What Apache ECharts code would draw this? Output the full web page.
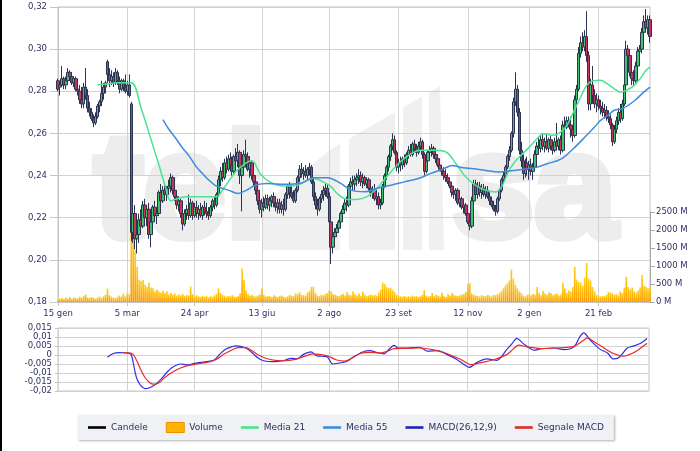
<!DOCTYPE html>
<html><head><meta charset="utf-8">
<script src="https://cdn.jsdelivr.net/npm/echarts@6/dist/echarts.min.js"></script>
<style>html,body{margin:0;padding:0;background:#fff}#c{width:700px;height:451px}</style>
</head><body><div id="c"></div>
<script>
// x-axis tick labels and the trading-day index where each one sits
const dayLabels = ['15 gen','5 mar','24 apr','13 giu','2 ago','23 set','12 nov','2 gen','21 feb'];
const labelDays = [0,35,69,103,137,172,207,238,273];

const opens = [
.285,.282,.283,.286,.283,.285,.289,.287,.284,.286,
.281,.280,.276,.274,.282,.278,.272,.270,.267,.265,
.268,.273,.275,.279,.282,.294,.288,.285,.287,.284,
.289,.285,.281,.285,.282,.280,.283,.274,.213,.222,
.210,.212,.219,.216,.226,.220,.224,.212,.218,.225,
.221,.222,.232,.228,.233,.231,.234,.235,.239,.233,
.230,.226,.228,.222,.217,.222,.224,.221,.227,.221,
.225,.222,.224,.221,.225,.223,.222,.221,.225,.228,
.226,.231,.238,.242,.239,.246,.243,.248,.245,.242,
.249,.247,.251,.240,.244,.250,.249,.243,.246,.240,
.237,.233,.228,.224,.227,.225,.229,.226,.228,.230,
.227,.225,.227,.224,.226,.224,.231,.235,.232,.230,
.228,.233,.239,.243,.241,.242,.240,.243,.244,.237,
.230,.226,.224,.229,.231,.233,.234,.230,.218,.206,
.211,.213,.215,.218,.222,.224,.227,.226,.235,.237,
.236,.238,.239,.240,.237,.239,.236,.238,.234,.232,
.233,.229,.230,.226,.227,.235,.240,.244,.249,.254,
.257,.251,.244,.246,.245,.248,.246,.250,.252,.250,
.255,.253,.251,.254,.256,.250,.242,.247,.251,.252,
.253,.250,.248,.245,.243,.242,.240,.239,.237,.235,
.232,.231,.233,.227,.229,.225,.226,.222,.218,.216,
.228,.236,.231,.235,.232,.234,.231,.233,.230,.228,
.226,.224,.223,.229,.233,.238,.240,.244,.249,.252,
.260,.275,.281,.270,.252,.247,.241,.246,.243,.245,
.242,.244,.250,.254,.253,.257,.254,.256,.253,.257,
.254,.252,.256,.254,.257,.252,.264,.263,.266,.264,
.262,.259,.276,.281,.298,.303,.301,.306,.297,.274,
.283,.278,.274,.276,.273,.272,.270,.271,.268,.267,
.264,.256,.262,.266,.270,.267,.274,.283,.300,.297,
.289,.286,.285,.292,.299,.300,.308,.313,.310,.314];

const highs = [
.286,.284,.292,.287,.287,.291,.290,.289,.287,.287,
.285,.283,.282,.284,.291,.281,.275,.272,.269,.270,
.274,.276,.285,.284,.285,.295,.291,.290,.289,.291,
.290,.287,.286,.286,.288,.285,.288,.275,.228,.226,
.215,.222,.224,.228,.229,.226,.227,.222,.226,.228,
.224,.233,.236,.235,.237,.235,.238,.241,.240,.237,
.233,.230,.229,.226,.224,.226,.231,.229,.228,.227,
.228,.226,.227,.226,.228,.227,.225,.226,.229,.230,
.232,.240,.244,.246,.248,.249,.250,.251,.249,.250,
.253,.255,.252,.246,.252,.257,.251,.248,.247,.244,
.240,.235,.231,.229,.230,.231,.231,.230,.231,.232,
.230,.229,.229,.228,.229,.232,.236,.237,.236,.233,
.234,.240,.245,.246,.244,.245,.244,.246,.245,.239,
.232,.229,.230,.233,.235,.236,.236,.232,.220,.213,
.215,.217,.219,.223,.226,.229,.230,.236,.239,.240,
.240,.241,.243,.242,.241,.240,.239,.239,.237,.235,
.236,.233,.232,.229,.236,.241,.245,.250,.255,.260,
.259,.252,.248,.249,.249,.250,.251,.254,.255,.256,
.257,.255,.256,.258,.257,.251,.249,.252,.254,.255,
.254,.252,.250,.248,.245,.244,.243,.241,.239,.236,
.234,.234,.234,.231,.230,.228,.227,.224,.220,.230,
.238,.238,.237,.237,.236,.236,.235,.235,.232,.230,
.228,.226,.230,.234,.239,.242,.245,.250,.254,.261,
.277,.289,.283,.272,.256,.250,.248,.249,.247,.248,
.246,.252,.256,.258,.259,.260,.258,.260,.258,.259,
.256,.258,.265,.258,.259,.266,.268,.268,.268,.268,
.264,.278,.283,.301,.306,.308,.309,.318,.299,.286,
.292,.281,.279,.278,.276,.275,.274,.273,.271,.269,
.265,.264,.268,.272,.274,.276,.285,.304,.302,.299,
.292,.290,.294,.301,.302,.310,.316,.319,.316,.316];

const lows = [
.280,.278,.282,.281,.281,.284,.285,.283,.282,.280,
.278,.274,.272,.272,.276,.270,.268,.266,.263,.264,
.267,.270,.273,.276,.279,.284,.282,.283,.282,.283,
.283,.279,.280,.280,.279,.278,.277,.209,.208,.205,
.203,.208,.214,.215,.218,.216,.210,.206,.216,.219,
.217,.221,.226,.227,.229,.228,.231,.232,.231,.228,
.224,.223,.220,.214,.216,.219,.219,.220,.219,.220,
.220,.219,.220,.219,.221,.220,.219,.220,.223,.224,
.225,.230,.235,.237,.238,.241,.242,.243,.240,.241,
.245,.244,.236,.223,.242,.246,.242,.239,.238,.235,
.231,.226,.222,.220,.223,.224,.224,.223,.225,.225,
.223,.222,.222,.222,.221,.223,.229,.229,.229,.227,
.227,.232,.237,.239,.238,.239,.238,.240,.236,.228,
.224,.221,.223,.227,.228,.230,.229,.215,.198,.203,
.209,.211,.213,.216,.220,.222,.223,.225,.233,.233,
.233,.235,.236,.235,.234,.235,.234,.233,.230,.229,
.228,.226,.224,.224,.226,.234,.238,.242,.247,.252,
.250,.242,.241,.242,.243,.244,.245,.248,.249,.249,
.251,.249,.250,.252,.248,.240,.241,.245,.248,.249,
.248,.246,.244,.242,.240,.238,.237,.236,.234,.230,
.229,.228,.226,.225,.224,.222,.221,.217,.214,.215,
.227,.229,.229,.230,.229,.230,.229,.229,.226,.225,
.223,.221,.222,.228,.232,.236,.239,.243,.247,.251,
.258,.273,.268,.250,.244,.238,.239,.240,.238,.240,
.238,.243,.248,.251,.251,.252,.251,.252,.251,.252,
.250,.251,.253,.252,.250,.251,.261,.262,.263,.258,
.256,.258,.274,.280,.296,.299,.299,.294,.271,.271,
.274,.272,.270,.271,.269,.268,.267,.266,.265,.262,
.254,.255,.260,.264,.265,.266,.273,.282,.295,.287,
.283,.283,.284,.290,.296,.298,.305,.308,.307,.303];

const closes = [
.281,.283,.286,.283,.285,.289,.287,.284,.286,.281,
.280,.276,.274,.282,.278,.272,.270,.267,.265,.268,
.273,.275,.279,.282,.284,.288,.285,.287,.284,.289,
.285,.281,.285,.282,.280,.283,.278,.213,.222,.210,
.212,.219,.216,.226,.220,.224,.212,.218,.225,.221,
.222,.232,.228,.233,.231,.234,.235,.239,.233,.230,
.226,.228,.222,.217,.222,.224,.221,.227,.221,.225,
.222,.224,.221,.225,.223,.222,.221,.225,.228,.226,
.231,.238,.242,.239,.246,.243,.248,.245,.242,.249,
.247,.251,.240,.244,.250,.249,.243,.246,.240,.237,
.233,.228,.224,.227,.225,.229,.226,.228,.230,.227,
.225,.227,.224,.226,.224,.231,.235,.232,.230,.228,
.233,.239,.243,.241,.242,.240,.243,.244,.237,.230,
.226,.224,.229,.231,.233,.234,.230,.218,.206,.211,
.213,.215,.218,.222,.224,.227,.226,.235,.237,.236,
.238,.239,.240,.237,.239,.236,.238,.234,.232,.233,
.229,.230,.226,.227,.235,.240,.244,.249,.254,.257,
.251,.244,.246,.245,.248,.246,.250,.252,.250,.255,
.253,.251,.254,.256,.250,.242,.247,.251,.252,.253,
.250,.248,.245,.243,.242,.240,.239,.237,.235,.232,
.231,.233,.227,.229,.225,.226,.222,.218,.216,.228,
.236,.231,.235,.232,.234,.231,.233,.230,.228,.226,
.224,.223,.229,.233,.238,.240,.244,.249,.252,.260,
.275,.281,.270,.252,.247,.241,.246,.243,.245,.242,
.244,.250,.254,.253,.257,.254,.256,.253,.257,.254,
.252,.256,.254,.257,.252,.264,.263,.266,.264,.262,
.259,.276,.281,.298,.303,.301,.306,.297,.274,.283,
.278,.274,.276,.273,.272,.270,.271,.268,.267,.264,
.256,.262,.266,.270,.267,.274,.283,.300,.297,.289,
.286,.285,.292,.299,.300,.308,.313,.310,.314,.306];

// volume, millions
const volumes = [
60,90,110,80,120,100,140,90,130,110,
100,150,120,170,210,130,110,140,120,90,
130,150,110,160,200,380,190,150,120,110,
140,180,150,230,160,250,220,2100,2000,1440,
980,620,580,610,480,420,540,400,380,300,
350,290,260,320,250,300,210,260,200,240,
180,210,190,230,170,200,180,430,220,150,
190,160,140,180,150,170,130,160,150,180,
220,380,260,200,180,150,170,160,190,150,
140,170,240,930,610,320,220,180,200,160,
150,180,210,380,200,150,170,160,140,190,
160,140,170,180,150,130,160,200,180,160,
240,220,280,200,190,170,260,300,420,430,
250,180,160,200,180,220,250,320,300,220,
200,180,160,200,230,180,280,210,190,300,
220,180,240,170,290,200,160,190,210,180,
200,170,260,350,540,500,420,380,400,330,
280,200,180,160,150,170,140,160,150,180,
150,170,140,160,200,330,180,150,170,250,
160,200,180,150,260,170,140,220,180,250,
200,180,170,190,210,230,280,500,520,240,
200,180,170,150,190,170,160,200,180,150,
200,190,220,250,300,380,460,520,600,900,
650,480,380,300,250,180,150,200,220,190,
230,200,420,260,190,310,240,200,270,250,
190,220,240,180,210,540,380,250,320,290,
420,980,620,560,540,450,680,1080,650,600,
420,300,200,180,150,170,160,200,280,260,
240,200,220,180,300,250,400,700,420,350,
400,300,260,320,400,750,450,420,380,400];

// moving averages: [day index, value]
const ma21 = [[20,.283],[25,.2835],[30,.284],[37,.284],[42,.272],[47,.257],[51,.245],[54,.2355],[57,.228],[60,.229],[65,.230],[70,.230],[75,.230],[80,.230],[83,.233],[86,.237],[90,.242],[95,.246],[98,.247],[102,.241],[107,.237],[114,.235],[121,.2354],[126,.2378],[129,.2386],[134,.237],[138,.2346],[141,.2315],[146,.2287],[151,.2287],[156,.230],[161,.2339],[166,.2394],[172,.2457],[177,.2496],[183,.252],[190,.252],[196,.2512],[201,.2456],[206,.2393],[211,.2353],[216,.233],[221,.2322],[224,.2346],[227,.2409],[230,.2456],[233,.2488],[238,.2535],[242,.2575],[245,.2599],[250,.2591],[254,.2607],[257,.2638],[260,.2694],[264,.2773],[267,.2828],[270,.2849],[274,.2852],[277,.2839],[281,.2812],[284,.2797],[287,.2804],[291,.2828],[294,.286],[297,.290],[299,.2915]];
const ma55 = [[53,.2666],[56,.262],[59,.2583],[63,.253],[66,.2496],[70,.244],[73,.241],[76,.238],[80,.235],[86,.2331],[91,.2315],[95,.233],[100,.2355],[106,.2362],[114,.2359],[123,.2365],[129,.239],[136,.239],[143,.2362],[148,.2331],[155,.2323],[161,.2339],[168,.2354],[175,.237],[182,.2386],[188,.2409],[195,.2433],[199,.2448],[203,.244],[210,.2432],[216,.2424],[223,.2417],[230,.2424],[237,.2432],[242,.244],[247,.2456],[254,.2478],[260,.2525],[267,.2591],[271,.263],[274,.2662],[278,.2688],[281,.271],[285,.2717],[291,.2754],[296,.2797],[299,.282]];
const macd = [[25,-.0013],[28,.0008],[31,.0013],[35,.0011],[37,.0002],[38,-.004],[39,-.0095],[40,-.0135],[42,-.0172],[44,-.0187],[46,-.0183],[49,-.0166],[52,-.0135],[55,-.0097],[58,-.0068],[62,-.005],[65,-.0055],[69,-.0047],[72,-.0041],[75,-.0037],[79,-.0028],[82,.0006],[85,.0033],[88,.0046],[90,.0051],[93,.0047],[96,.0032],[99,.0005],[101,-.0015],[104,-.0032],[109,-.0037],[114,-.0032],[118,-.0019],[121,-.0022],[124,.0002],[128,.0017],[131,-.0005],[136,-.0009],[139,-.005],[142,-.0045],[146,-.0036],[150,-.0007],[155,.0021],[158,.0024],[161,.0015],[165,.0006],[167,.0026],[170,.0054],[172,.0039],[177,.0039],[183,.0043],[187,.0021],[192,.0024],[197,.0002],[202,-.0026],[205,-.005],[208,-.0069],[212,-.0041],[217,-.0022],[222,-.003],[227,.003],[230,.0067],[232,.0092],[236,.0058],[241,.0026],[244,.0034],[251,.0039],[256,.003],[261,.0045],[264,.0101],[266,.0123],[269,.0086],[274,.0034],[278,.0011],[281,-.0022],[284,-.0012],[288,.0039],[291,.0049],[295,.0067],[298,.0092]];
const signal = [[33,.0013],[36,.0012],[38,.0003],[40,-.0035],[42,-.0085],[44,-.0125],[46,-.015],[48,-.0162],[51,-.0155],[54,-.0125],[58,-.0095],[62,-.0072],[66,-.0058],[71,-.0048],[76,-.004],[80,-.0025],[84,.0005],[88,.0028],[91,.0041],[95,.0041],[98,.0025],[101,.0003],[105,-.0018],[110,-.003],[115,-.0032],[120,-.0024],[125,-.0006],[129,.0006],[133,.0002],[137,-.0008],[141,-.0028],[145,-.0034],[149,-.0015],[153,.0009],[158,.0015],[163,.0011],[167,.0022],[170,.0035],[177,.0037],[183,.0039],[190,.0028],[197,.0007],[204,-.0026],[209,-.0054],[214,-.0042],[220,-.0028],[227,.0002],[230,.003],[233,.0055],[237,.0046],[244,.0036],[252,.0039],[261,.0048],[265,.0075],[268,.0095],[271,.0075],[275,.0048],[281,.0008],[286,-.0006],[291,.0012],[295,.004],[298,.0065]];

const categories = opens.map((_, i) => 'd' + i);
const candles = opens.map((o, i) => [o, closes[i], lows[i], highs[i]]);

const isLabelDay = (i) => labelDays.indexOf(i) >= 0;
const axisFont = {color:'#2e2e66', fontSize:8.5, fontFamily:'DejaVu Sans'};
const gridLine = {color:'#d2d2d2', width:1};
const linePath = 'path://M0,0H18V2.6H0Z';
const wm = '#ededed';
const wmText = {fontSize:148, fontWeight:'bold', fontFamily:'Liberation Sans', fill:wm, stroke:wm, lineWidth:8, verticalAlign:'middle'};

const chart = echarts.init(document.getElementById('c'), null, {renderer:'canvas', width:700, height:451});
chart.setOption({
  animation:false,
  backgroundColor:'#fff',
  textStyle:{fontFamily:'DejaVu Sans'},
  graphic:[
    {type:'rect', z:100, shape:{x:0, y:0, width:2, height:451}, style:{fill:'#000'}},
    {type:'text', z:-10, silent:true, x:94, y:196, style:Object.assign({text:'tel'}, wmText)},
    {type:'polygon', z:-10, silent:true, shape:{points:[[262,250],[262,205],[330,150],[440,86],[444,250]]}, style:{fill:'#f0f0f0'}},
    {type:'rect', z:-9, silent:true, shape:{x:395, y:80, width:8, height:175}, style:{fill:'#fff'}},
    {type:'rect', z:-9, silent:true, shape:{x:422, y:80, width:7, height:175}, style:{fill:'#fff'}},
    {type:'rect', z:-9, silent:true, shape:{x:340, y:120, width:9, height:135}, style:{fill:'#fff'}},
    {type:'text', z:-10, silent:true, x:452, y:196, style:Object.assign({text:'sa'}, wmText)}
  ],
  legend:{
    left:78, top:415, padding:[7,10,7,10], itemGap:18, itemWidth:18, itemHeight:10,
    selectedMode:false, backgroundColor:'#eff1f4',
    shadowColor:'rgba(0,0,0,0.3)', shadowBlur:2, shadowOffsetX:1, shadowOffsetY:1,
    textStyle:{color:'#2e2e66', fontSize:9, fontFamily:'DejaVu Sans'},
    data:[
      {name:'Candele', icon:linePath, itemStyle:{color:'#000', borderWidth:0}},
      {name:'Volume', icon:'rect', itemStyle:{color:'#ffb300', borderColor:'#f09000', borderWidth:1}},
      {name:'Media 21', icon:linePath, itemStyle:{color:'#4be391', borderWidth:0}},
      {name:'Media 55', icon:linePath, itemStyle:{color:'#3f8bdc', borderWidth:0}},
      {name:'MACD(26,12,9)', icon:linePath, itemStyle:{color:'#2323b8', borderWidth:0}},
      {name:'Segnale MACD', icon:linePath, itemStyle:{color:'#e02a2a', borderWidth:0}}
    ]
  },
  grid:[
    {left:58, top:7, width:592, height:295, show:true, borderColor:'#c4c4c4', borderWidth:1},
    {left:58, top:212, width:592, height:90, show:false},
    {left:58, top:328, width:591, height:63, show:true, borderColor:'#c4c4c4', borderWidth:1}
  ],
  xAxis:[
    {type:'category', gridIndex:0, data:categories, boundaryGap:false,
     axisLine:{show:true, lineStyle:{color:'#c4c4c4'}},
     axisTick:{show:true, interval:(i)=>isLabelDay(i), length:4, lineStyle:{color:'#c4c4c4'}},
     axisLabel:Object.assign({interval:(i)=>isLabelDay(i), formatter:(v,i)=>dayLabels[labelDays.indexOf(i)]||'', margin:7}, axisFont),
     splitLine:{show:true, interval:(i)=>isLabelDay(i), lineStyle:gridLine}},
    {type:'category', gridIndex:1, data:categories, boundaryGap:false, show:false},
    {type:'category', gridIndex:2, data:categories, boundaryGap:false,
     axisLine:{show:false}, axisTick:{show:false}, axisLabel:{show:false},
     splitLine:{show:true, interval:(i)=>isLabelDay(i), lineStyle:gridLine}}
  ],
  yAxis:[
    {type:'value', gridIndex:0, min:0.18, max:0.32, interval:0.02,
     axisLine:{show:true, lineStyle:{color:'#c4c4c4'}},
     axisTick:{show:true, length:8, lineStyle:{color:'#c4c4c4'}},
     axisLabel:Object.assign({margin:11, formatter:(v)=>v.toFixed(2).replace('.', ',')}, axisFont),
     splitLine:{show:true, lineStyle:gridLine}},
    {type:'value', gridIndex:1, position:'right', min:0, max:2500, interval:500,
     axisLine:{show:true, lineStyle:{color:'#aaaaaa'}},
     axisTick:{show:true, length:5, lineStyle:{color:'#aaaaaa'}},
     axisLabel:Object.assign({margin:6, formatter:(v)=>Math.round(v) + ' M'}, axisFont),
     splitLine:{show:false}},
    {type:'value', gridIndex:2, min:-0.02, max:0.015, interval:0.005,
     axisLine:{show:false},
     axisTick:{show:true, length:3, lineStyle:{color:'#c4c4c4'}},
     axisLabel:Object.assign({margin:6, formatter:(v)=>String(Math.round(v*1000)/1000).replace('.', ',')}, axisFont),
     splitLine:{show:true, lineStyle:gridLine}}
  ],
  series:[
    {name:'Volume', type:'bar', xAxisIndex:1, yAxisIndex:1, data:volumes, barWidth:1.7, z:1,
     itemStyle:{color:new echarts.graphic.LinearGradient(0,0,0,1,[{offset:0,color:'#ffd21a'},{offset:1,color:'#ff9800'}])}},
    {name:'Candele', type:'candlestick', xAxisIndex:0, yAxisIndex:0, data:candles, barWidth:3, z:3,
     itemStyle:{color:'#3ec46d', color0:'#c7355c', borderColor:'#2b3552', borderColor0:'#2b3552', borderWidth:1}},
    {name:'Media 21', type:'line', xAxisIndex:0, yAxisIndex:0, data:ma21, showSymbol:false, smooth:0.35, z:4,
     itemStyle:{color:'#4be391'}, lineStyle:{color:'#4be391', width:1.5}},
    {name:'Media 55', type:'line', xAxisIndex:0, yAxisIndex:0, data:ma55, showSymbol:false, smooth:0.35, z:4,
     itemStyle:{color:'#3f8bdc'}, lineStyle:{color:'#3f8bdc', width:1.5}},
    {name:'MACD(26,12,9)', type:'line', xAxisIndex:2, yAxisIndex:2, data:macd, showSymbol:false, smooth:0.3, z:4,
     itemStyle:{color:'#2323d0'}, lineStyle:{color:'#2f2fe0', width:1.2}},
    {name:'Segnale MACD', type:'line', xAxisIndex:2, yAxisIndex:2, data:signal, showSymbol:false, smooth:0.3, z:4,
     itemStyle:{color:'#e02a2a'}, lineStyle:{color:'#e82a2a', width:1.2}}
  ]
});
</script>
</body></html>
